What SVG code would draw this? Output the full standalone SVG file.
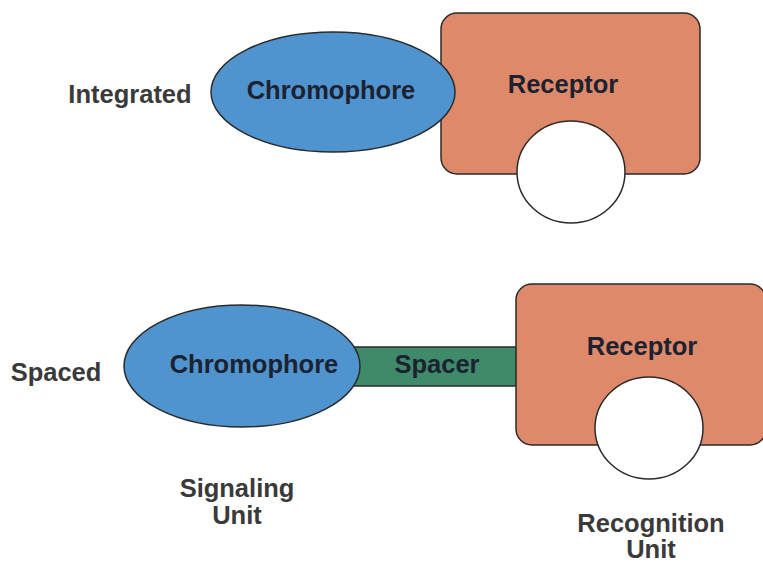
<svg xmlns="http://www.w3.org/2000/svg" width="763" height="562" viewBox="0 0 763 562">
<style>
text{font-family:"Liberation Sans",Arial,sans-serif;font-weight:bold;font-size:25.5px;text-anchor:middle}
.lbl{fill:#3a3a3a}
.nt{fill:#1c2230}
.chromo{fill:#4f94cf;stroke:#2a2a2a;stroke-width:1.5}
.rec{fill:#de8a6a;stroke:#2a2a2a;stroke-width:1.5}
.site{fill:#ffffff;stroke:#2a2a2a;stroke-width:1.5}
.spc{fill:#3f8a68;stroke:#2a2a2a;stroke-width:1.5}
</style>
<rect width="763" height="562" fill="#ffffff"/>
<g id="label-integrated"><text class="lbl" x="130" y="103">Integrated</text></g>
<g id="receptor-top">
<rect class="rec" x="441" y="13" width="259" height="161" rx="16"/>
<ellipse class="site" cx="571" cy="172" rx="54" ry="51"/>
<text class="nt" x="563" y="93">Receptor</text>
</g>
<g id="chromophore-top">
<ellipse class="chromo" cx="333" cy="92" rx="122" ry="60"/>
<text class="nt" x="331" y="99">Chromophore</text>
</g>
<g id="label-spaced"><text class="lbl" x="56" y="381">Spaced</text></g>
<g id="connectors">
<g id="spacer">
<rect class="spc" x="352" y="347" width="166" height="39"/>
<text class="nt" x="437" y="373">Spacer</text>
</g>
</g>
<g id="chromophore-bottom">
<ellipse class="chromo" cx="242" cy="366" rx="118" ry="61"/>
<text class="nt" x="254" y="373">Chromophore</text>
</g>
<g id="receptor-bottom">
<rect class="rec" x="516" y="284" width="250" height="161" rx="16"/>
<ellipse class="site" cx="649" cy="428" rx="54" ry="51"/>
<text class="nt" x="642" y="355">Receptor</text>
</g>
<g id="label-signaling">
<text class="lbl" x="237" y="497">Signaling</text>
<text class="lbl" x="237" y="524">Unit</text>
</g>
<g id="label-recognition">
<text class="lbl" x="651" y="532">Recognition</text>
<text class="lbl" x="651" y="558">Unit</text>
</g>
</svg>
